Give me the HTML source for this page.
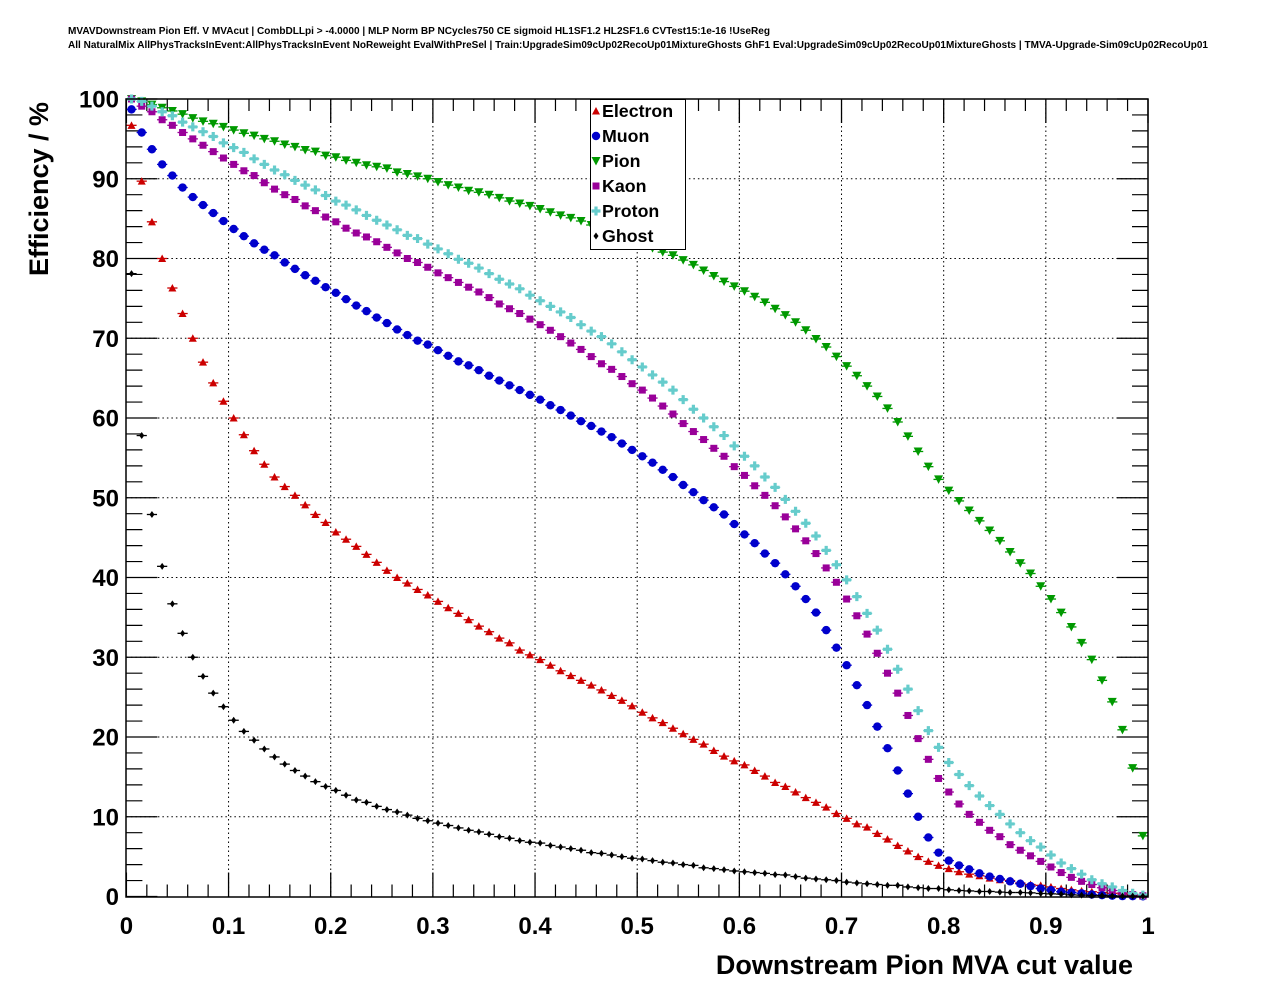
<!DOCTYPE html>
<html><head><meta charset="utf-8"><style>
body{margin:0;background:#fff;}
svg{display:block;font-family:"Liberation Sans",Arial,sans-serif;}
</style></head><body>
<svg id="chart" width="1276" height="996" viewBox="0 0 1276 996">
<rect x="0" y="0" width="1276" height="996" fill="#fff"/>
<text x="68" y="34" font-size="10" font-weight="bold" textLength="702" lengthAdjust="spacingAndGlyphs">MVAVDownstream Pion Eff. V MVAcut | CombDLLpi &gt; -4.0000 | MLP Norm BP NCycles750 CE sigmoid HL1SF1.2 HL2SF1.6 CVTest15:1e-16 !UseReg</text>
<text x="68" y="48" font-size="10" font-weight="bold" textLength="1140" lengthAdjust="spacingAndGlyphs">All NaturalMix AllPhysTracksInEvent:AllPhysTracksInEvent NoReweight EvalWithPreSel | Train:UpgradeSim09cUp02RecoUp01MixtureGhosts GhF1 Eval:UpgradeSim09cUp02RecoUp01MixtureGhosts | TMVA-Upgrade-Sim09cUp02RecoUp01</text>
<g id="grid"></g>
<g id="axes"></g>
<g id="series"></g>
<rect x="126" y="99" width="1022" height="798" fill="none" stroke="#000" stroke-width="1.5"/>
<text transform="translate(48,189) rotate(-90)" text-anchor="middle" font-size="27" font-weight="bold">Efficiency / %</text>
<text x="1133" y="974" text-anchor="end" font-size="27" font-weight="bold">Downstream Pion MVA cut value</text>
<g id="legend">
<rect x="590.5" y="99.5" width="95" height="150" fill="#fff" stroke="#000" stroke-width="1"/>
</g>
</svg>
<script>
const categories = ["Electron","Muon","Pion","Kaon","Proton","Ghost"];
const xTicks = [0,0.1,0.2,0.3,0.4,0.5,0.6,0.7,0.8,0.9,1];
const xTickLabels = ["0","0.1","0.2","0.3","0.4","0.5","0.6","0.7","0.8","0.9","1"];
const yTicks = [0,10,20,30,40,50,60,70,80,90,100];
const yTickLabels = ["0","10","20","30","40","50","60","70","80","90","100"];
const electron = [96.7,89.7,84.6,80.0,76.3,73.1,70.0,67.0,64.4,62.1,60.0,57.9,55.9,54.2,52.6,51.4,50.3,49.1,47.9,46.9,45.7,44.8,43.9,42.9,41.9,40.9,40.0,39.3,38.5,37.8,37.0,36.2,35.5,34.7,33.9,33.2,32.4,31.8,30.9,30.3,29.7,29.0,28.3,27.7,27.1,26.5,25.9,25.2,24.6,23.9,23.1,22.4,21.8,21.1,20.4,19.7,19.1,18.3,17.6,17.0,16.5,15.8,15.1,14.3,13.8,13.1,12.4,11.8,11.2,10.4,9.8,9.1,8.7,7.9,7.2,6.4,5.7,5.0,4.4,3.9,3.5,3.1,2.8,2.6,2.3,2.1,2.0,1.7,1.5,1.4,1.2,1.0,0.84,0.7,0.6,0.5,0.4,0.3,0.2,0.08];
const muon = [98.7,95.8,93.7,91.8,90.4,88.9,87.7,86.7,85.7,84.7,83.7,82.8,81.9,81.1,80.4,79.5,78.7,77.9,77.2,76.4,75.7,74.9,74.1,73.4,72.6,71.9,71.1,70.4,69.7,69.2,68.5,67.8,67.1,66.6,66.0,65.3,64.7,64.1,63.5,62.9,62.3,61.6,61.0,60.3,59.6,59.0,58.3,57.6,56.8,56.0,55.2,54.4,53.5,52.6,51.6,50.7,49.7,48.8,47.9,46.7,45.4,44.3,43.0,41.8,40.4,38.9,37.3,35.6,33.4,31.2,29.0,26.5,24.0,21.3,18.6,15.8,12.9,10.0,7.4,5.5,4.5,3.9,3.4,2.9,2.5,2.2,1.9,1.6,1.3,1.0,0.8,0.6,0.5,0.4,0.25,0.17,0.1,0.05,0.04,0.02];
const pion = [100,99.7,99.3,98.9,98.5,98.1,97.6,97.2,96.9,96.5,96.1,95.7,95.4,95.0,94.7,94.3,94.0,93.6,93.4,92.9,92.7,92.3,92.0,91.7,91.5,91.3,90.8,90.6,90.3,90.0,89.6,89.2,88.9,88.5,88.3,88.0,87.6,87.2,86.9,86.6,86.2,85.8,85.4,85.1,84.7,84.2,83.7,83.2,82.7,82.2,81.7,81.3,80.8,80.4,79.8,79.2,78.5,77.8,77.1,76.5,75.9,75.2,74.5,73.7,72.9,72.0,71.0,69.9,68.9,67.7,66.5,65.3,64.0,62.7,61.2,59.5,57.7,55.8,53.9,52.3,50.9,49.6,48.4,47.1,45.9,44.6,43.2,41.8,40.5,38.9,37.3,35.6,33.8,31.8,29.7,27.1,24.4,20.9,16.1,7.6];
const kaon = [100.0,99.1,98.4,97.4,96.7,95.8,95.0,94.2,93.4,92.6,91.8,91.0,90.4,89.5,88.7,88.0,87.4,86.6,86.0,85.2,84.6,83.8,83.2,82.7,82.1,81.4,80.7,80.0,79.5,78.9,78.2,77.6,77.0,76.4,75.8,75.1,74.3,73.7,73.1,72.4,71.7,71.0,70.2,69.4,68.6,67.7,66.8,66.1,65.2,64.3,63.5,62.5,61.5,60.5,59.3,58.3,57.3,56.2,55.2,53.9,52.8,51.5,50.3,49.0,47.6,46.1,44.6,43.0,41.2,39.4,37.3,35.2,32.9,30.5,28.0,25.5,22.7,19.8,17.2,14.8,13.1,11.6,10.3,9.3,8.3,7.5,6.5,5.8,5.1,4.4,3.7,3.0,2.4,1.9,1.5,1.1,0.75,0.46,0.25,0.1];
const proton = [100,99.7,99.1,98.4,97.9,97.1,96.5,95.9,95.3,94.5,93.9,93.3,92.5,91.8,91.1,90.5,89.8,89.2,88.6,87.9,87.2,86.7,86.1,85.4,84.8,84.2,83.6,82.9,82.5,81.8,81.2,80.6,79.9,79.4,78.8,78.1,77.4,76.8,76.2,75.4,74.7,74.0,73.3,72.6,71.7,70.9,70.2,69.3,68.3,67.3,66.4,65.4,64.5,63.5,62.3,61.1,60.0,58.9,57.8,56.5,55.2,54.0,52.6,51.3,49.8,48.3,46.8,45.2,43.4,41.6,39.7,37.6,35.5,33.4,31.0,28.5,26.0,23.3,20.8,18.7,16.8,15.3,13.9,12.6,11.4,10.3,9.1,8.0,7.0,6.2,5.2,4.2,3.5,2.8,2.1,1.6,1.2,0.75,0.4,0.17];
const ghost = [78.1,57.8,47.9,41.4,36.7,33.0,30.0,27.6,25.5,23.8,22.1,20.7,19.6,18.5,17.5,16.6,15.8,15.1,14.4,13.8,13.3,12.7,12.1,11.8,11.3,10.9,10.6,10.2,9.8,9.5,9.2,8.9,8.6,8.3,8.1,7.8,7.5,7.3,7.0,6.8,6.7,6.4,6.2,6.0,5.8,5.5,5.4,5.2,5.0,4.8,4.7,4.5,4.3,4.2,4.0,3.9,3.6,3.5,3.35,3.2,3.1,3.0,2.9,2.75,2.7,2.5,2.3,2.2,2.1,2.0,1.8,1.7,1.6,1.5,1.4,1.4,1.2,1.1,1.0,1.0,0.84,0.75,0.7,0.63,0.63,0.55,0.5,0.5,0.46,0.38,0.33,0.3,0.2,0.17,0.13,0.13,0.08,0.06,0.05,0.04];

const NS='http://www.w3.org/2000/svg';
const X0=126.4, X1=1148, Y0=896.5, Y1=99;
const xs=v=>X0+(X1-X0)*v;
const ys=v=>Y0-(Y0-Y1)*v/100;
function mk(tag,attrs,parent){const e=document.createElementNS(NS,tag);for(const k in attrs)e.setAttribute(k,attrs[k]);parent.appendChild(e);return e;}
const grid=document.getElementById('grid'), axes=document.getElementById('axes'), ser=document.getElementById('series'), leg=document.getElementById('legend');

xTicks.forEach((t,i)=>{
  const x=xs(t);
  if(i>0&&i<xTicks.length-1){const l=mk('line',{x1:x,x2:x,y1:Y1,y2:Y0,stroke:'#000','stroke-width':1,'stroke-dasharray':'1.5,3'},grid);
  
  }
  const tk=mk('path',{d:`M${x},${Y0}V${Y0-24}M${x},${Y1}V${Y1+24}`,stroke:'#000','stroke-width':1.3},axes);
  
  
  const tx=mk('text',{x:x,y:934,'text-anchor':'middle','font-size':24,'font-weight':'bold'},axes);
  tx.textContent=xTickLabels[i];
  
  
  if(i<xTicks.length-1){for(let m=1;m<5;m++){const xm=xs(t+0.02*m);
    const mt=mk('path',{d:`M${xm},${Y0}V${Y0-12}M${xm},${Y1}V${Y1+12}`,stroke:'#000','stroke-width':1.2},axes);
    
    }}
});
yTicks.forEach((t,i)=>{
  const y=ys(t);
  if(i>0&&i<yTicks.length-1){const l=mk('line',{x1:X0,x2:X1,y1:y,y2:y,stroke:'#000','stroke-width':1,'stroke-dasharray':'1.5,3'},grid);
  
  }
  const tk=mk('path',{d:`M${X0},${y}H${X0+31}M${X1},${y}H${X1-31}`,stroke:'#000','stroke-width':1.3},axes);
  
  
  const tx=mk('text',{x:119,y:y+8.5,'text-anchor':'end','font-size':24,'font-weight':'bold'},axes);
  tx.textContent=yTickLabels[i];
  
  
  if(i<yTicks.length-1){for(let m=1;m<5;m++){const ym=ys(t+2*m);
    const mt=mk('path',{d:`M${X0},${ym}H${X0+16}M${X1},${ym}H${X1-16}`,stroke:'#000','stroke-width':1.2},axes);
    
    }}
});

function marker(kind,x,y,col,parent){
  let e;
  if(kind==='tu') e=mk('path',{d:`M${x-4},${y+3.5}L${x+4},${y+3.5}L${x},${y-4}Z`,fill:col},parent);
  else if(kind==='c') e=mk('circle',{cx:x,cy:y,r:4.2,fill:col},parent);
  else if(kind==='td') e=mk('path',{d:`M${x-4.5},${y-4}L${x+4.5},${y-4}L${x},${y+4.5}Z`,fill:col},parent);
  else if(kind==='sq') e=mk('rect',{x:x-3.5,y:y-3.5,width:7,height:7,fill:col},parent);
  else if(kind==='cr') e=mk('path',{d:`M${x-1.6},${y-4.5}h3.2v2.9h2.9v3.2h-2.9v2.9h-3.2v-2.9h-2.9v-3.2h2.9Z`,fill:col},parent);
  else e=mk('path',{d:`M${x},${y-3.5}L${x+2.5},${y}L${x},${y+3.5}L${x-2.5},${y}Z`,fill:col},parent);
  return e;
}
const seriesData=[electron,muon,pion,kaon,proton,ghost];
const colors=['#cc0000','#0000cc','#009900','#990099','#66cccc','#000000'];
const kinds=['tu','c','td','sq','cr','d'];
const names=['electron','muon','pion','kaon','proton','ghost'];
seriesData.forEach((arr,s)=>{
  const g=mk('g',{},ser);
  
  
  arr.forEach((v,i)=>{
    const xc=0.005+0.01*i, x=xs(xc), y=ys(v);
    const eb=mk('path',{d:`M${x-5.1},${y}H${x+5.1}`,stroke:colors[s],'stroke-width':1.3},g);
    
    
    const m=marker(kinds[s],x,y,colors[s],g);
    
    
  });
});
categories.forEach((c,i)=>{
  const y=111+i*25;
  const m=marker(kinds[i],596,y,colors[i],leg);
  
  
  const t=mk('text',{x:602,y:y+6,'font-size':17.8,'font-weight':'bold'},leg);
  t.textContent=c;
  
  
});
</script>
</body></html>
